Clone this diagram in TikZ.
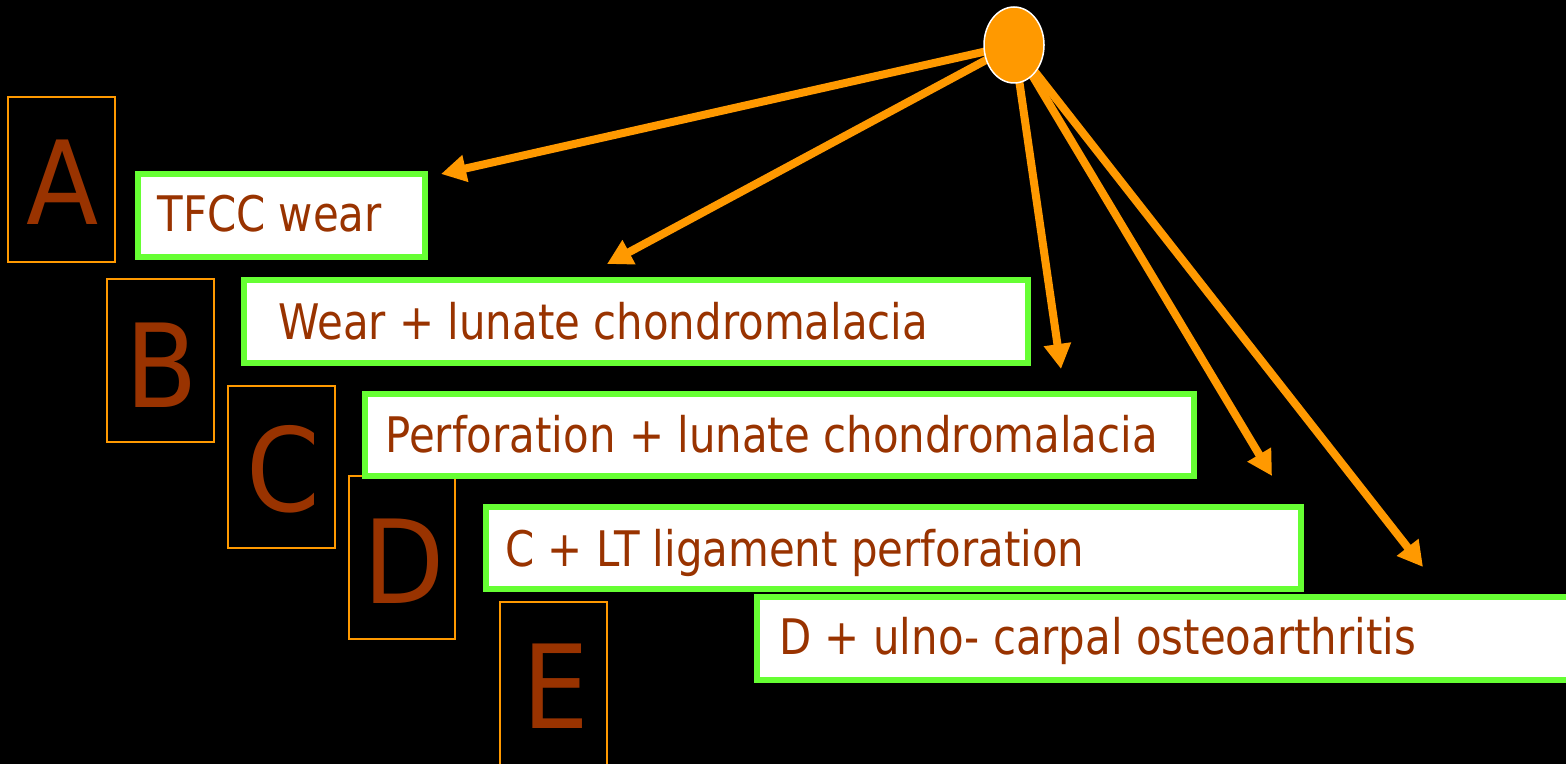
\documentclass[tikz,border=0pt]{standalone}
\usepackage{fontspec}
\setmainfont{DejaVu Sans}[FakeStretch=0.91]
\newfontfamily\stagefont{DejaVu Sans}[FakeStretch=0.855]
\usetikzlibrary{arrows.meta,shapes.geometric}
\definecolor{hub}{HTML}{FF9900}
\definecolor{brown}{HTML}{993300}
\definecolor{lime}{HTML}{66FF33}
\tikzset{
  gradebox/.style={draw=hub, line width=0.75pt},
  gradeletter/.style={text=brown, font=\fontsize{58}{60}\selectfont, inner sep=0pt, anchor=base},
  stagebox/.style={draw=lime, fill=white, line width=3pt},
  stagetext/.style={text=brown, font=\stagefont\fontsize{24.5}{26}\selectfont, inner sep=0pt, anchor=base west},
  pointer/.style={draw=hub, line width=4pt, -{Triangle[length=12.5pt,width=13pt]}}
}
\begin{document}
\begin{tikzpicture}[x=0.5pt, y=-0.5pt]
\useasboundingbox (0,0) rectangle (1566,764);
\fill[black] (0,0) rectangle (1566,764);
\clip (0,0) rectangle (1566,764);

% grade letters in their frames
\draw[gradebox] (8,97) rectangle (115,262);
\node[gradeletter] (lA) at (63,225) {A};
\draw[gradebox] (107,279) rectangle (214,442);
\node[gradeletter] (lB) at (162,407) {B};
\draw[gradebox] (228,386) rectangle (335,548);
\node[gradeletter] (lC) at (283,511) {C};
\draw[gradebox] (349,476) rectangle (455,639);
\node[gradeletter] (lD) at (404,603) {D};
\draw[gradebox] (500,602) rectangle (607,766);
\node[gradeletter] (lE) at (556,728) {E};

% stage descriptions
\draw[stagebox] (138,174) rectangle (425,257);
\node[stagetext] (tA) at (157,232) {TFCC wear};
\draw[stagebox] (244,280) rectangle (1028,363);
\node[stagetext] (tB) at (278,339) {Wear + lunate chondromalacia};
\draw[stagebox] (365,394) rectangle (1194,476);
\node[stagetext] (tC) at (385,452) {Perforation + lunate chondromalacia};
\draw[stagebox] (486,507) rectangle (1301,589);
\node[stagetext] (tD) at (505,566) {C + LT ligament perforation};
\draw[stagebox] (757,597) rectangle (1575,680);
\node[stagetext] (tE) at (779,654) {D + ulno- carpal osteoarthritis};

% pointers from the hub
\coordinate (h) at (1014,45);
\coordinate (pA) at (441,174);
\coordinate (pB) at (607,264);
\coordinate (pC) at (1061,369);
\coordinate (pD) at (1272,476);
\coordinate (pE) at (1423,567);
\draw[pointer] (h) -- (pA);
\draw[pointer] (h) -- (pB);
\draw[pointer] (h) -- (pC);
\draw[pointer] (h) -- (pD);
\draw[pointer] (h) -- (pE);

% hub
\node[ellipse, draw=white, fill=hub, line width=0.75pt, minimum width=30pt, minimum height=38pt, inner sep=0pt] (hubnode) at (h) {};
\end{tikzpicture}
\end{document}
